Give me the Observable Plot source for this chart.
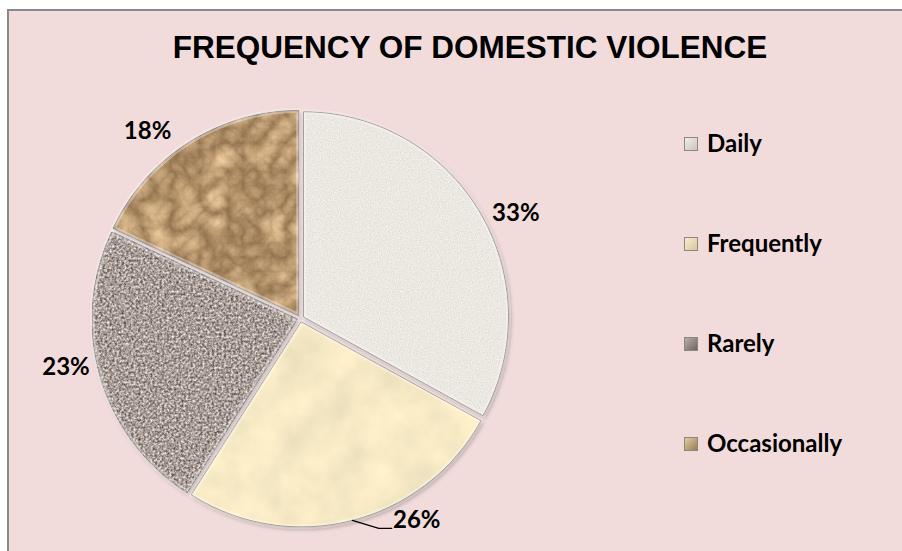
<!DOCTYPE html>
<html>
<head>
<meta charset="utf-8">
<script src="https://cdn.jsdelivr.net/npm/d3@7"></script>
<script src="https://cdn.jsdelivr.net/npm/@observablehq/plot@0.6"></script>
<style>
  html, body { margin: 0; padding: 0; background: #ffffff; overflow: hidden; }
  #wrap { position: relative; width: 902px; height: 551px; overflow: hidden; background: #ffffff; }
  #frame { position: absolute; left: 7px; top: 9px; width: 960px; height: 600px;
           border: 2px solid #8a8a8a; background: #f2dcdb; box-sizing: border-box; }
  #title { position: absolute; left: 170px; width: 600px; top: 31px; height: 32px; line-height: 32px;
           text-align: center; white-space: nowrap; color: #000;
           font-family: "Liberation Sans", Arial, sans-serif; font-weight: bold; font-size: 31.5px; }
  #chart { position: absolute; left: 0; top: 0; }
  .lg-item { position: absolute; left: 707px; height: 24px; line-height: 24px; white-space: nowrap;
             font-family: Lato, "Open Sans", sans-serif; font-weight: bold; font-size: 24px; color: #000; }
  .lg-sw { position: absolute; left: 684px; width: 14px; height: 14px; box-sizing: border-box;
           border: 1px solid #8f867e; }
</style>
</head>
<body>
<div id="wrap">
  <div id="frame"></div>
  <div id="chart"></div>
  <div id="title">FREQUENCY OF DOMESTIC VIOLENCE</div>
  <div id="legend"></div>
</div>
<script>
// ---- data ----
const categories = ["Daily", "Frequently", "Rarely", "Occasionally"];
const values = [33, 26, 23, 18];
const valueLabels = ["33%", "26%", "23%", "18%"];

// ---- styles ----
const sliceColors = ["#ebe7e1", "#f5e8c8", "#a99e98", "#b39470"];
const swatchBg = [
  "linear-gradient(135deg,#f0eeea,#c9c4be)",
  "linear-gradient(135deg,#f7eed3,#d9c597)",
  "linear-gradient(135deg,#b9b0aa,#6d645f)",
  "linear-gradient(135deg,#e2cba5,#9c7c52)"
];

// ---- geometry (unit pie, centre 0,0, radius 1) ----
const explode = 0.017;
const arcs = d3.pie().sort(null).startAngle(0).endAngle(2 * Math.PI)(values);

const slicePts = [];
const labelRows = [];
const leaderPts = [];
arcs.forEach((a, i) => {
  const mid = (a.startAngle + a.endAngle) / 2;
  const s = Math.sin(mid), c = Math.cos(mid);
  const ox = explode * s, oy = explode * c;
  const key = categories[i];
  slicePts.push({key, x: ox, y: oy});
  const n = Math.max(8, Math.ceil((a.endAngle - a.startAngle) / (Math.PI / 180)));
  for (let j = 0; j <= n; j++) {
    const t = a.startAngle + (a.endAngle - a.startAngle) * j / n;
    slicePts.push({key, x: ox + Math.sin(t), y: oy + Math.cos(t)});
  }
  // outside-end label placement
  let lx = 0.937 * s + 0.244 * Math.sign(s);
  let ly = 1.19 * c - 0.093 * Math.sign(c);
  const minY = -0.985;
  if (ly < minY) {
    ly = minY;
    lx += 0.09;
    const halfW = 0.112, px = 1 / 205;
    const ex = ox + s, ey = oy + c;
    leaderPts.push({x: ex, y: ey});
    leaderPts.push({x: lx - halfW - 15 * px, y: ly - 8 * px});
    leaderPts.push({x: lx - halfW - 2 * px, y: ly - 8 * px});
  }
  labelRows.push({key, label: valueLabels[i], x: lx, y: ly});
});

const plot = Plot.plot({
  width: 902,
  height: 551,
  marginLeft: 95,
  marginRight: 397,
  marginTop: 113,
  marginBottom: 28,
  x: {domain: [-1, 1], axis: null},
  y: {domain: [-1, 1], axis: null},
  color: {domain: categories, range: sliceColors},
  style: {background: "transparent", overflow: "visible"},
  marks: [
    Plot.line(slicePts, {x: "x", y: "y", z: "key", fill: "key", curve: "linear-closed",
      stroke: "#6e625b", strokeWidth: 1, strokeOpacity: 0.85, className: "slices"}),
    Plot.line(slicePts, {x: "x", y: "y", z: "key", curve: "linear-closed",
      stroke: "#ffffff", strokeWidth: 5, strokeOpacity: 0.35, fill: "none", className: "bevel"}),
    Plot.line(leaderPts, {x: "x", y: "y", stroke: "#000", strokeWidth: 1.2}),
    Plot.text(labelRows, {x: "x", y: "y", text: "label", fill: "#000",
      fontFamily: "Lato, 'Open Sans', sans-serif", fontWeight: "bold", fontSize: 24,
      textAnchor: "middle", lineAnchor: "middle"})
  ]
});

// textures and shading
const defs = `
<defs>
  <filter id="shadow" x="-10%" y="-10%" width="120%" height="120%">
    <feDropShadow dx="1.5" dy="2" stdDeviation="2" flood-color="#000" flood-opacity="0.35"/>
  </filter>
  <filter id="tx0" x="0" y="0" width="100%" height="100%" color-interpolation-filters="sRGB">
    <feTurbulence type="fractalNoise" baseFrequency="0.9" numOctaves="2" seed="4" result="n"/>
    <feColorMatrix in="n" type="matrix" values="1 0 0 0 0  1 0 0 0 0  1 0 0 0 0  0 0 0 0 1" result="g"/>
    <feComposite in="SourceGraphic" in2="g" operator="arithmetic" k1="0" k2="1" k3="0.16" k4="-0.08" result="c"/>
    <feComposite in="c" in2="SourceGraphic" operator="in"/>
  </filter>
  <filter id="tx1" x="0" y="0" width="100%" height="100%" color-interpolation-filters="sRGB">
    <feTurbulence type="fractalNoise" baseFrequency="0.025" numOctaves="4" seed="9" result="n"/>
    <feColorMatrix in="n" type="matrix" values="1 0 0 0 0  1 0 0 0 0  0.7 0 0 0 0  0 0 0 0 1" result="g"/>
    <feComposite in="SourceGraphic" in2="g" operator="arithmetic" k1="0" k2="1" k3="0.13" k4="-0.06" result="c"/>
    <feComposite in="c" in2="SourceGraphic" operator="in"/>
  </filter>
  <filter id="tx2" x="0" y="0" width="100%" height="100%" color-interpolation-filters="sRGB">
    <feTurbulence type="fractalNoise" baseFrequency="0.42" numOctaves="2" seed="2" result="n"/>
    <feColorMatrix in="n" type="matrix" values="1 0 0 0 0  1 0 0 0 0  1 0 0 0 0  0 0 0 0 1" result="g"/>
    <feComposite in="SourceGraphic" in2="g" operator="arithmetic" k1="0" k2="1" k3="0.95" k4="-0.48" result="c"/>
    <feComposite in="c" in2="SourceGraphic" operator="in"/>
  </filter>
  <filter id="tx3" x="0" y="0" width="100%" height="100%" color-interpolation-filters="sRGB">
    <feTurbulence type="turbulence" baseFrequency="0.035" numOctaves="5" seed="7" result="n"/>
    <feColorMatrix in="n" type="matrix" values="1 0 0 0 0  0.95 0 0 0 0  0.85 0 0 0 0  0 0 0 0 1" result="g"/>
    <feComposite in="SourceGraphic" in2="g" operator="arithmetic" k1="0" k2="1" k3="0.5" k4="-0.15" result="c"/>
    <feComposite in="c" in2="SourceGraphic" operator="in"/>
  </filter>
</defs>`;
plot.insertAdjacentHTML("afterbegin", defs);
const sg = plot.querySelector("g.slices");
if (sg) {
  sg.setAttribute("filter", "url(#shadow)");
  sg.querySelectorAll("path").forEach((p, i) => p.setAttribute("filter", `url(#tx${i})`));
}
document.getElementById("chart").appendChild(plot);

// legend (HTML)
const legend = document.getElementById("legend");
categories.forEach((cat, i) => {
  const baseline = 152 + i * 100;
  const sw = document.createElement("div");
  sw.className = "lg-sw";
  sw.style.top = (baseline - 15) + "px";
  sw.style.background = swatchBg[i];
  legend.appendChild(sw);
  const it = document.createElement("div");
  it.className = "lg-item";
  it.style.top = (baseline - 21) + "px";
  it.textContent = cat;
  legend.appendChild(it);
});
</script>
</body>
</html>
